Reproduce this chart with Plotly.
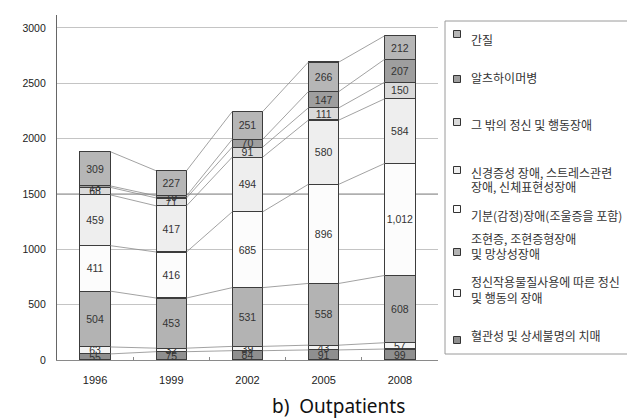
import plotly.graph_objects as go

years = ["1996", "1999", "2002", "2005", "2008"]

# series, bottom to top of the stack
s_dementia = [55, 75, 84, 91, 99]          # 혈관성 및 상세불명의 치매
s_substance = [63, 32, 39, 43, 57]         # 정신작용물질사용 ...
s_schizo = [504, 453, 531, 558, 608]       # 조현증 ...
s_mood = [411, 416, 685, 896, 1012]        # 기분(감정)장애
s_neurotic = [459, 417, 494, 580, 584]     # 신경증성 장애 ...
s_other = [68, 71, 91, 111, 150]           # 그 밖의 정신 및 행동장애
s_alz = [13, 19, 70, 147, 207]             # 알츠하이머병
s_epilepsy = [309, 227, 251, 266, 212]     # 간질

series = [s_dementia, s_substance, s_schizo, s_mood, s_neurotic, s_other, s_alz, s_epilepsy]
names = ["혈관성 및 상세불명의 치매",
         "정신작용물질사용에 따른 정신<br>및 행동의 장애",
         "조현증, 조현증형장애<br>및 망상성장애",
         "기분(감정)장애(조울증을 포함)",
         "신경증성 장애, 스트레스관련<br>장애, 신체표현성장애",
         "그 밖의 정신 및 행동장애",
         "알츠하이머병",
         "간질"]
colors = ["#8f8f8f", "#f3f3f3", "#b3b3b3", "#fcfcfc", "#eeeeee", "#dadada", "#9e9e9e", "#b6b6b6"]

W, H = 635, 418
L, R, T, B = 49, 430, 7, 352


def px(x):
    return (x - L) / (R - L)


def py(y):
    return (B - y) / (B - T)


xs = list(range(len(years)))
bw = 0.4

fig = go.Figure()

# connecting (series) lines between bars
cum = [0] * len(years)
for vals in series:
    cum = [c + v for c, v in zip(cum, vals)]
    lx, ly = [], []
    for i in range(len(years) - 1):
        lx += [xs[i] + bw / 2, xs[i + 1] - bw / 2, None]
        ly += [cum[i], cum[i + 1], None]
    fig.add_trace(go.Scatter(x=lx, y=ly, mode="lines", line=dict(color="#8a8a8a", width=0.8),
                             hoverinfo="skip", showlegend=False))

for vals, name, col in zip(series, names, colors):
    fig.add_trace(go.Bar(
        x=xs, y=vals, name=name, width=bw,
        marker=dict(color=col, line=dict(color="#3c3c3c", width=1.1)),
        text=[f"{v:,}" for v in vals], textposition="inside", insidetextanchor="middle",
        textangle=0, textfont=dict(size=10.5, color="#333333", family="Liberation Sans"),
        showlegend=False,
    ))

shapes = [
    dict(type="line", xref="paper", yref="y", x0=0, x1=1, y0=1500, y1=1500,
         line=dict(color="#606060", width=1.3), layer="below"),
    dict(type="rect", xref="paper", yref="paper", x0=px(437), x1=px(631), y0=py(13), y1=py(346),
         line=dict(color="#9a9a9a", width=1), fillcolor="rgba(0,0,0,0)"),
]

# legend (manual), top to bottom
leg_marker_y = [26, 71, 114, 162, 201, 244, 285, 332]
leg_lines = [
    [("간질", 31)],
    [("알츠하이머병", 70)],
    [("그 밖의 정신 및 행동장애", 117)],
    [("신경증성 장애, 스트레스관련", 164), ("장애, 신체표현성장애", 178)],
    [("기분(감정)장애(조울증을 포함)", 207)],
    [("조현증, 조현증형장애", 230), ("및 망상성장애", 246)],
    [("정신작용물질사용에 따른 정신", 273), ("및 행동의 장애", 289)],
    [("혈관성 및 상세불명의 치매", 327)],
]
leg_colors = colors[::-1]
annotations = []
for my, lines, col in zip(leg_marker_y, leg_lines, leg_colors):
    shapes.append(dict(type="rect", xref="paper", yref="paper",
                       x0=px(445.5), x1=px(452.5), y0=py(my + 3.5), y1=py(my - 3.5),
                       line=dict(color="#333333", width=1), fillcolor=col))
    for txt, ty in lines:
        annotations.append(dict(text=txt, xref="paper", yref="paper", x=px(461), y=py(ty),
                                xanchor="left", yanchor="middle", showarrow=False,
                                font=dict(size=12, color="#333333", family="Noto Sans CJK KR")))

annotations.append(dict(text="b)  Outpatients", xref="paper", yref="paper", x=px(330), y=py(398),
                        xanchor="center", yanchor="middle", showarrow=False,
                        font=dict(size=19, color="#111111", family="Noto Sans")))

fig.update_layout(
    width=W, height=H,
    margin=dict(l=L, r=W - R, t=T, b=H - B, pad=0),
    paper_bgcolor="white", plot_bgcolor="white",
    barmode="stack",
    shapes=shapes, annotations=annotations,
    uniformtext=dict(minsize=10.5, mode="show"),
    font=dict(family="Liberation Sans", color="#333333"),
    xaxis=dict(range=[-0.5, 4.5], tickmode="array", tickvals=xs, ticktext=years,
               ticks="", showgrid=False, zeroline=False, showline=True, linecolor="#8a8a8a",
               tickfont=dict(size=11, color="#222222"), ticklabelstandoff=10,
               minor=dict(tickmode="array", tickvals=[0.5, 1.5, 2.5, 3.5], ticks="inside",
                          ticklen=3, tickcolor="#888888", showgrid=False)),
    yaxis=dict(range=[0, 3117], tickmode="array", tickvals=[0, 500, 1000, 1500, 2000, 2500, 3000],
               showgrid=True, gridcolor="#c4c4c4", gridwidth=1, zeroline=False,
               showline=True, linecolor="#666666", linewidth=1.2, ticks="",
               tickfont=dict(size=10.5, color="#222222"), ticklabelstandoff=8),
)

fig.write_html("out.html")
